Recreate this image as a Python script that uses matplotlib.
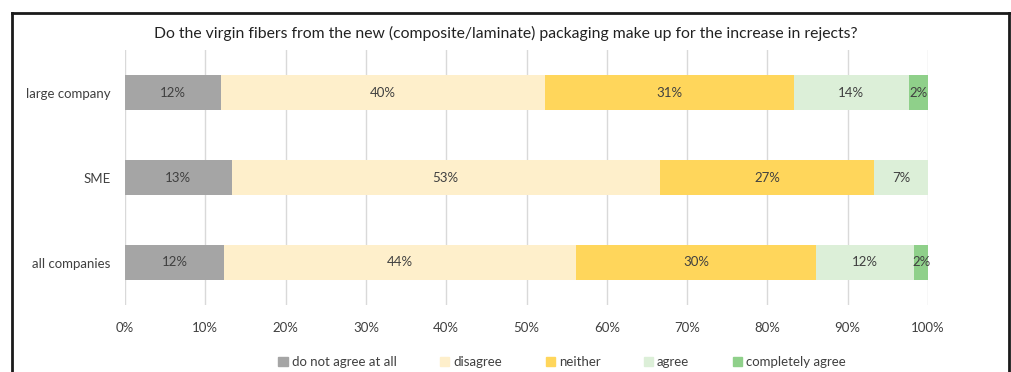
import numpy as np
import matplotlib.pyplot as plt
from matplotlib.lines import Line2D

plt.rcParams['font.family'] = ['Lato', 'DejaVu Sans']

# survey answers in percent, one list per company group
groups = ['large company', 'SME', 'all companies']
answers = ['do not agree at all', 'disagree', 'neither', 'agree', 'completely agree']
large = [11.9, 40.4, 31.0, 14.3, 2.4]
sme = [13.3, 53.3, 26.7, 6.7, 0.0]
all_comp = [12.3, 43.9, 29.8, 12.3, 1.7]
colors = ['#a5a5a5', '#feefcb', '#ffd65b', '#dcefd8', '#8fd08a']
title = 'Do the virgin fibers from the new (composite/laminate) packaging make up for the increase in rejects?'

data = np.array([large, sme, all_comp])

fig = plt.figure(figsize=(10.11, 3.72), dpi=100)
ax = fig.add_axes([125 / 1011, 1 - 305 / 372, 803 / 1011, 255 / 372])

ypos = np.arange(len(groups))
left = np.zeros(len(groups))
for j, name in enumerate(answers):
    vals = data[:, j]
    ax.barh(ypos, vals, left=left, height=0.41, color=colors[j], label=name, zorder=2)
    for i, v in enumerate(vals):
        if v > 0:
            ax.text(left[i] + v / 2, ypos[i], f'{v:.0f}%', ha='center', va='center',
                    fontsize=9.5, color='#404040', zorder=3)
    left += vals

ax.set_xlim(0, 100)
ax.set_ylim(len(groups) - 0.5, -0.5)
ax.set_yticks(ypos)
ax.set_yticklabels(groups)
ax.set_xticks(np.arange(0, 101, 10))
ax.set_xticklabels([f'{t}%' for t in range(0, 101, 10)])
ax.tick_params(axis='both', length=0, labelsize=9.5, colors='#404040')
ax.tick_params(axis='x', pad=12)
ax.tick_params(axis='y', pad=10.5)
ax.grid(axis='x', color='#d9d9d9', lw=1, zorder=0)
for s in ax.spines.values():
    s.set_visible(False)

fig.text(0.5, 1 - 33 / 372, title, ha='center', va='center', fontsize=11.3, color='#222222')

handles = [plt.Rectangle((0, 0), 1, 1, color=c) for c in colors]
fig.legend(handles, answers, loc='center', bbox_to_anchor=(0.556, 1 - 362 / 372), ncol=5,
           frameon=False, fontsize=9.5, handlelength=0.7, handleheight=0.7,
           handletextpad=0.3, columnspacing=3.3, labelcolor='#404040')

# dark frame around the chart
kw = dict(color='#1a1a1a', lw=2, transform=fig.transFigure)
fig.add_artist(Line2D([12 / 1011, 12 / 1011], [0, 1 - 12.5 / 372], **kw))
fig.add_artist(Line2D([12 / 1011, 1009 / 1011], [1 - 12.5 / 372, 1 - 12.5 / 372], **kw))
fig.add_artist(Line2D([1009 / 1011, 1009 / 1011], [0, 1 - 12.5 / 372], **kw))

fig.savefig('out.png', dpi=100)
